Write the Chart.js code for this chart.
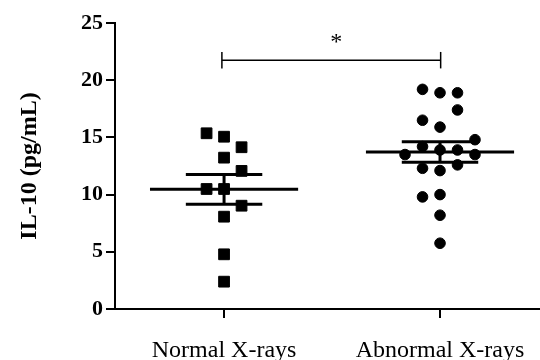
<!DOCTYPE html>
<html>
<head>
<meta charset="utf-8">
<script src="https://cdn.jsdelivr.net/npm/chart.js@4"></script>
<style>
  html, body { margin: 0; padding: 0; background: #fff; }
  #wrap { width: 540px; height: 360px; }
</style>
</head>
<body>
<div id="wrap"><canvas id="dotChart"></canvas></div>
<script>
// groups on the x axis
const groups = ["Normal X-rays", "Abnormal X-rays"];

// IL-10 values, with their column slot in the scatter
const normalValues = [15.36, 15.06, 14.14, 13.23, 12.07, 10.49, 10.49, 9.03, 8.07, 4.78, 2.39];
const normalSlots  = [-1, 0, 1, 0, 1, -1, 0, 1, 0, 0, 0];
const abnormalValues = [19.2, 18.9, 18.9, 17.4, 16.5, 15.9, 14.8, 14.2, 13.5, 13.9, 13.9, 13.5, 12.3, 12.1, 12.6, 9.8, 10.0, 8.2, 5.75];
const abnormalSlots  = [-1, 0, 1, 1, -1, 0, 2, -1, -2, 0, 1, 2, -1, 0, 1, -1, 0, 0, 0];

// mean and SEM per group
const groupMeans = [10.46, 13.72];
const groupSems = [1.3, 0.9];

const yTicks = [0, 5, 10, 15, 20, 25];
const sigLabel = "*";
const bracketY = 21.75;

const slotStep = 0.081;
const meanHalf = 0.343;
const semHalf = 0.177;

function segment(x1, y1, x2, y2, width) {
  return {
    data: [{ x: x1, y: y1 }, { x: x2, y: y2 }],
    showLine: true,
    borderColor: "#000",
    borderWidth: width,
    pointRadius: 0,
    borderCapStyle: "butt",
  };
}

const datasets = [
  {
    data: normalValues.map((v, i) => ({ x: 1 + normalSlots[i] * slotStep, y: v })),
    pointStyle: "rect",
    pointRadius: 7.6,
    backgroundColor: "#000",
    borderColor: "#000",
    borderWidth: 1,
  },
  {
    data: abnormalValues.map((v, i) => ({ x: 2 + abnormalSlots[i] * slotStep, y: v })),
    pointStyle: "circle",
    pointRadius: 5.3,
    backgroundColor: "#000",
    borderColor: "#000",
    borderWidth: 1,
  },
];

groupMeans.forEach(function (m, i) {
  const g = i + 1;
  const s = groupSems[i];
  datasets.push(segment(g - meanHalf, m, g + meanHalf, m, 3));
  datasets.push(segment(g - semHalf, m + s, g + semHalf, m + s, 3));
  datasets.push(segment(g - semHalf, m - s, g + semHalf, m - s, 3));
  datasets.push(segment(g, m - s, g, m + s, 3));
});

// significance bracket
datasets.push(segment(0.99, bracketY, 2.003, bracketY, 1.5));
datasets.push(segment(0.99, bracketY - 0.72, 0.99, bracketY + 0.72, 1.5));
datasets.push(segment(2.003, bracketY - 0.72, 2.003, bracketY + 0.72, 1.5));

const starPlugin = {
  id: "star",
  afterDatasetsDraw(chart) {
    const { ctx, scales } = chart;
    ctx.save();
    ctx.fillStyle = "#000";
    ctx.font = "24px 'Liberation Serif'";
    ctx.textAlign = "center";
    ctx.textBaseline = "alphabetic";
    ctx.fillText(sigLabel, scales.x.getPixelForValue(1.52), scales.y.getPixelForValue(22.7));
    ctx.restore();
  },
};

new Chart(document.getElementById("dotChart").getContext("2d"), {
  type: "scatter",
  data: { datasets: datasets },
  plugins: [starPlugin],
  options: {
    responsive: true,
    maintainAspectRatio: false,
    animation: false,
    layout: { autoPadding: false, padding: { top: 23, right: 0, bottom: 0, left: 0 } },
    plugins: { legend: { display: false }, tooltip: { enabled: false } },
    scales: {
      x: {
        type: "linear",
        min: 0.495,
        max: 2.463,
        afterBuildTicks: function (scale) {
          scale.ticks = groups.map((g, i) => ({ value: i + 1 }));
        },
        afterFit: function (scale) {
          scale.height = 51;
          scale.paddingLeft = 0;
          scale.paddingRight = 0;
        },
        ticks: {
          autoSkip: false,
          maxRotation: 0,
          padding: 18,
          color: "#000",
          font: { family: "'Liberation Serif'", size: 24 },
          callback: function (v) {
            return groups[v - 1];
          },
        },
        grid: { drawOnChartArea: false, tickLength: 9, color: "#000", lineWidth: 2 },
        border: { color: "#000", width: 2 },
      },
      y: {
        min: yTicks[0],
        max: yTicks[yTicks.length - 1],
        afterBuildTicks: function (scale) {
          scale.ticks = yTicks.map((v) => ({ value: v }));
        },
        afterFit: function (scale) {
          scale.width = 115;
        },
        ticks: {
          padding: 3,
          color: "#000",
          font: { family: "'Liberation Serif'", size: 22, weight: "bold" },
        },
        grid: { drawOnChartArea: false, tickLength: 9, color: "#000", lineWidth: 2 },
        border: { color: "#000", width: 2 },
        title: {
          display: true,
          text: "IL-10 (pg/mL)",
          color: "#000",
          font: { family: "'Liberation Serif'", size: 24, weight: "bold" },
          padding: { top: 15, bottom: 0 },
        },
      },
    },
  },
});
</script>
</body>
</html>
